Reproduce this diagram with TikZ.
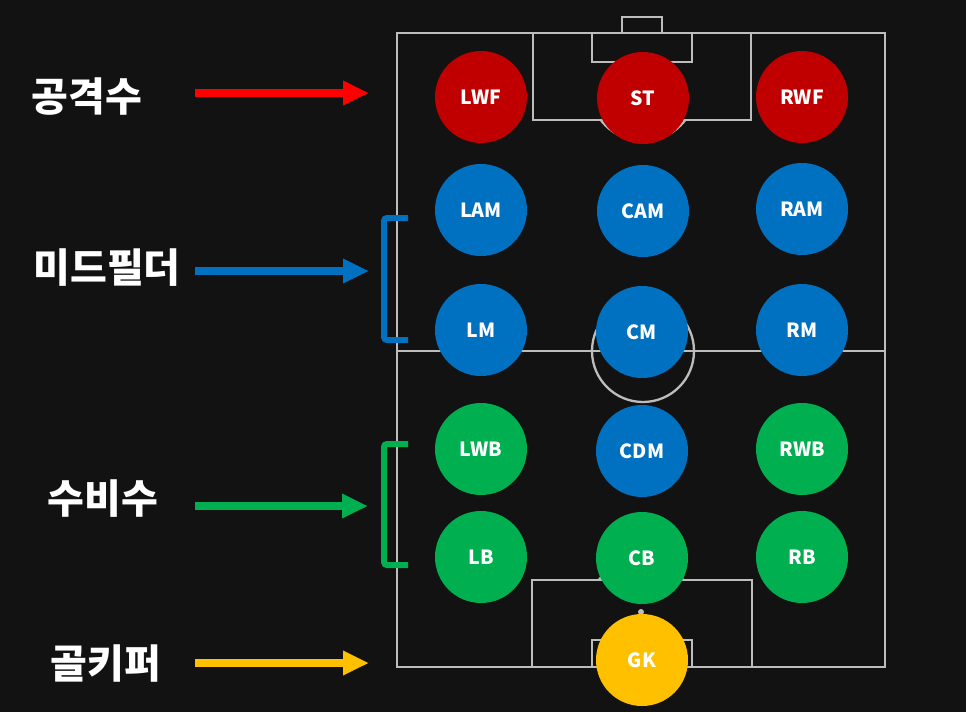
\documentclass[tikz,border=0pt]{standalone}
\usepackage{fontspec}
\setmainfont{Noto Sans}
\newfontfamily\kr{Noto Sans CJK KR}
\usetikzlibrary{arrows.meta}
\definecolor{bg}{HTML}{121212}
\definecolor{pline}{HTML}{BDBDBD}
\definecolor{fwd}{HTML}{C00000}
\definecolor{mid}{HTML}{0070C0}
\definecolor{dfd}{HTML}{00B050}
\definecolor{gkc}{HTML}{FFC000}
\definecolor{redarrow}{HTML}{FF0000}
\tikzset{
  player/.style={circle, minimum size=92pt, inner sep=0pt, text=white, font=\kr\bfseries\fontsize{19.5}{19.5}\selectfont},
  grouplabel/.style={text=white, font=\kr\bfseries\fontsize{40}{40}\selectfont, inner sep=0pt},
  pitch/.style={draw=pline, line width=2.3pt},
  grouparrow/.style={-{Triangle[length=26pt,width=23pt]}, line width=8pt},
  bracketline/.style={line width=6pt, rounded corners=3pt}
}
\begin{document}
\begin{tikzpicture}[x=1pt,y=-1pt]
\useasboundingbox (0,0) rectangle (966,712);
\fill[bg] (0,0) rectangle (966,712);
% pitch
\draw[pitch] (397,33) rectangle (885,667);
\draw[pitch] (397,351) -- (885,351);
\draw[pitch] (643,351) circle[radius=51];
\draw[pitch] (533,33) rectangle (751,120);
\draw[pitch] (592,33) rectangle (692,62);
\draw[pitch] (622,17) rectangle (662,33);
\draw[pitch] (532,580) rectangle (752,667);
\draw[pitch] (592,640) rectangle (692,667);
\begin{scope}
\clip (533,121) rectangle (751,200);
\draw[pitch] (643,88) circle[radius=53];
\end{scope}
\begin{scope}
\clip (532,500) rectangle (752,579);
\draw[pitch] (641,612) circle[radius=53];
\end{scope}
\fill[pline] (641,612) circle[radius=3];
% players
\node[player, fill=fwd] (lwf) at (481,97) {LWF};
\node[player, fill=fwd] (st) at (643,98) {ST};
\node[player, fill=fwd] (rwf) at (802,97) {RWF};
\node[player, fill=mid] (lam) at (481,210) {LAM};
\node[player, fill=mid] (cam) at (643,211) {CAM};
\node[player, fill=mid] (ram) at (802,209) {RAM};
\node[player, fill=mid] (lm) at (481,330) {LM};
\node[player, fill=mid] (cm) at (642,332) {CM};
\node[player, fill=mid] (rm) at (802,330) {RM};
\node[player, fill=dfd] (lwb) at (481,449) {LWB};
\node[player, fill=mid] (cdm) at (642,451) {CDM};
\node[player, fill=dfd] (rwb) at (802,449) {RWB};
\node[player, fill=dfd] (lb) at (481,557) {LB};
\node[player, fill=dfd] (cb) at (642,558) {CB};
\node[player, fill=dfd] (rb) at (802,557) {RB};
\node[player, fill=gkc] (gk) at (642,660) {GK};
% group labels
\node[grouplabel] (att) at (87,97) {공격수};
\node[grouplabel] (mf) at (107,268) {미드필더};
\node[grouplabel] (df) at (103,499) {수비수};
\node[grouplabel] (gkl) at (106,664) {골키퍼};
% arrows
\coordinate (a1s) at (195,93); \coordinate (a1e) at (369,93);
\coordinate (a2s) at (195,271); \coordinate (a2e) at (369,271);
\coordinate (a3s) at (195,506); \coordinate (a3e) at (368,506);
\coordinate (a4s) at (195,663); \coordinate (a4e) at (369,663);
\draw[grouparrow, redarrow] (a1s) -- (a1e);
\draw[grouparrow, mid] (a2s) -- (a2e);
\draw[grouparrow, dfd] (a3s) -- (a3e);
\draw[grouparrow, gkc] (a4s) -- (a4e);
% brackets
\draw[bracketline, mid] (408,218) -- (384,218) -- (384,340) -- (408,340);
\draw[bracketline, dfd] (408,444) -- (384,444) -- (384,565) -- (408,565);
\end{tikzpicture}
\end{document}
